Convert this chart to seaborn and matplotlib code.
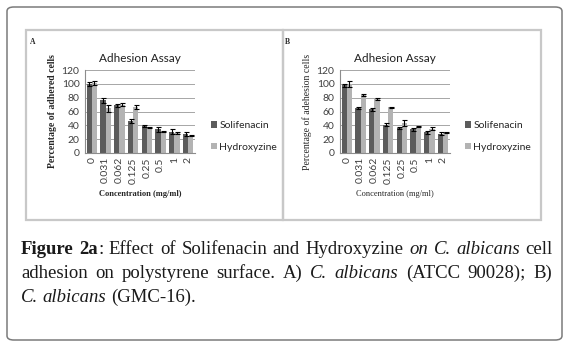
import numpy as np
import pandas as pd
import matplotlib
matplotlib.use("Agg")
import matplotlib.pyplot as plt
import seaborn as sns
from matplotlib.patches import FancyBboxPatch, Rectangle

# data
conc = ["0", "0.031", "0.062", "0.125", "0.25", "0.5", "1", "2"]
drugs = ["Solifenacin", "Hydroxyzine"]

a_sol = [100, 76, 69, 46, 39, 34, 31, 27]
a_hyd = [101, 65, 70, 67, 37, 31, 29, 25]
a_sol_err = [3, 3, 2, 3, 2, 3, 3, 3]
a_hyd_err = [3, 5, 2, 3, 1, 1, 2, 1]

b_sol = [98, 65, 63, 41, 36, 34, 30, 28]
b_hyd = [100, 84, 78, 66, 43, 38, 35, 30]
b_sol_err = [2, 2, 2, 2, 1, 2, 2, 2]
b_hyd_err = [4, 2, 2, 1, 4, 1, 2, 1]

colors = ["#5c5c5c", "#b3b3b3"]

sns.set_style("white")
plt.rcParams['font.family'] = ['Lato', 'DejaVu Sans']

W, H = 570, 349
fig = plt.figure(figsize=(W / 100, H / 100), dpi=100)


def px(x, y):
    # pixel coords (from top left) -> figure fraction
    return x / W, 1 - y / H


# outer rounded box
fig.patches.append(FancyBboxPatch((7 / W, 1 - 340 / H), 555 / W, 333 / H,
                                  boxstyle="round,pad=0,rounding_size=0.012",
                                  transform=fig.transFigure, fill=False,
                                  edgecolor="#7a7a7a", linewidth=1.1))
# panel frames
for x0, x1 in [(26, 283), (283, 541)]:
    fig.patches.append(Rectangle((x0 / W, 1 - 220 / H), (x1 - x0) / W, 190 / H,
                                 transform=fig.transFigure, fill=False,
                                 edgecolor="#c8c8c8", linewidth=1.6))


def panel(left_px, sol, hyd, sol_err, hyd_err, ylab, letter, bold, leg_x):
    l, b = px(left_px, 153)
    ax = fig.add_axes([l, b, 110 / W, 83 / H])
    df = pd.DataFrame({
        "Concentration": conc * 2,
        "Drug": [drugs[0]] * len(conc) + [drugs[1]] * len(conc),
        "Value": sol + hyd,
    })
    sns.barplot(data=df, x="Concentration", y="Value", hue="Drug",
                palette=colors, errorbar=None, width=0.75, ax=ax,
                saturation=1, linewidth=0)
    for cont, err in zip(ax.containers, [sol_err, hyd_err]):
        xs = [p.get_x() + p.get_width() / 2 for p in cont]
        ys = [p.get_height() for p in cont]
        ax.errorbar(xs, ys, yerr=err, fmt="none", ecolor="black",
                    elinewidth=0.8, capsize=1.8, capthick=0.8)
    ax.set_ylim(0, 120)
    ax.set_xlim(-0.5, 7.5)
    ax.set_yticks(range(0, 121, 20))
    ax.yaxis.grid(True, color="#a6a6a6", linewidth=0.7)
    ax.set_axisbelow(True)
    for s in ["top", "right"]:
        ax.spines[s].set_visible(False)
    ax.spines["left"].set_color("#8c8c8c")
    ax.spines["bottom"].set_color("#8c8c8c")
    ax.tick_params(axis="y", labelsize=7.5, colors="#404040", length=2, pad=2)
    ax.tick_params(axis="x", labelsize=7.5, colors="#404040", length=0,
                   labelrotation=90, pad=3)
    ax.set_xlabel("Concentration (mg/ml)", family="Liberation Serif",
                  fontsize=6, fontweight="bold" if bold else "normal",
                  labelpad=5)
    ax.set_ylabel(ylab, family="Liberation Serif", fontsize=7,
                  fontweight="bold" if bold else "normal", labelpad=3)
    ax.set_title("Adhesion Assay", fontsize=8.5, color="#202020", pad=6)
    lx, ly = px(leg_x, 136.5)
    ax.legend(loc="center left", bbox_to_anchor=(lx, ly),
              bbox_transform=fig.transFigure, frameon=False, fontsize=7.5,
              handlelength=0.6, handleheight=0.6, handletextpad=0.2,
              labelspacing=1.2, borderaxespad=0, borderpad=0)
    tx, ty = px(left_px - 55, 42)
    fig.text(tx, ty, letter, family="Liberation Serif", fontsize=5.5,
             fontweight="bold", va="center")
    return ax


panel(85, a_sol, a_hyd, a_sol_err, a_hyd_err,
      "Percentage of adhered cells", "A", True, 211)
panel(340, b_sol, b_hyd, b_sol_err, b_hyd_err,
      "Percentage of adehesion cells", "B", False, 465)

# caption, justified lines
line1 = [[("Figure", "b")], [("2a", "b"), (":", "r")], [("Effect", "r")],
         [("of", "r")], [("Solifenacin", "r")], [("and", "r")],
         [("Hydroxyzine", "r")], [("on", "i")], [("C.", "i")],
         [("albicans", "i")], [("cell", "r")]]
line2 = [[("adhesion", "r")], [("on", "r")], [("polystyrene", "r")],
         [("surface.", "r")], [("A)", "r")], [("C.", "i")],
         [("albicans", "i")], [("(ATCC", "r")], [("90028);", "r")],
         [("B)", "r")]]
line3 = [[("C.", "i")], [("albicans", "i")], [("(GMC-16).", "r")]]

renderer = fig.canvas.get_renderer()
styles = {"b": dict(fontweight="bold"), "i": dict(fontstyle="italic"), "r": {}}
cap_size = 13.5


def word_width(word):
    w = 0
    for txt, st in word:
        t = fig.text(0, 0, txt, family="Liberation Serif", fontsize=cap_size,
                     **styles[st])
        w += t.get_window_extent(renderer).width
        t.remove()
    return w


def put_line(words, base_y, x0, x1=None):
    widths = [word_width(w) for w in words]
    if x1 is None:
        gap = 4.5
    else:
        gap = (x1 - x0 - sum(widths)) / (len(words) - 1)
    x = x0
    for word, ww in zip(words, widths):
        xx = x
        for txt, st in word:
            fx, fy = px(xx, base_y)
            t = fig.text(fx, fy, txt, family="Liberation Serif",
                         fontsize=cap_size, va="baseline", color="#1a1a1a",
                         **styles[st])
            xx += t.get_window_extent(renderer).width
        x += ww + gap


put_line(line1, 254, 21, 553)
put_line(line2, 278, 21, 552)
put_line(line3, 302, 21)

fig.savefig("out.png", dpi=100)
